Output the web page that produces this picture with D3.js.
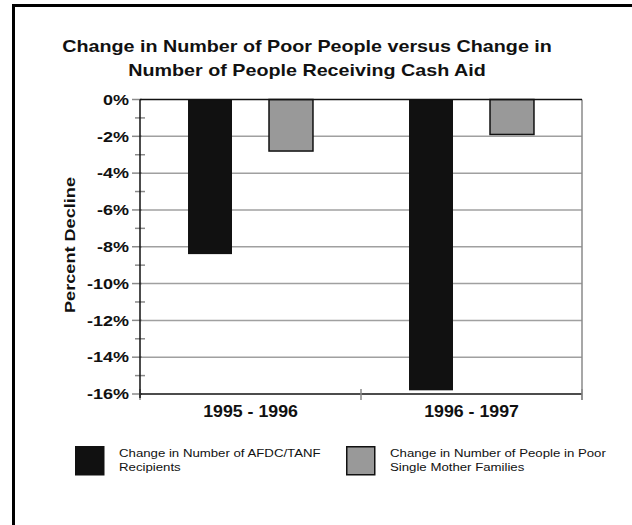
<!DOCTYPE html>
<html>
<head>
<meta charset="utf-8">
<script src="https://d3js.org/d3.v7.min.js"></script>
<style>
  body { margin: 0; background: #fff; }
  svg text { font-family: Arial, "Liberation Sans", sans-serif; }
</style>
</head>
<body>
<svg id="chart" width="632" height="525"></svg>
<script>
  // data
  var categories = ["1995 - 1996", "1996 - 1997"];
  var seriesNames = ["Change in Number of AFDC/TANF Recipients",
                     "Change in Number of People in Poor Single Mother Families"];
  var afdcValues = [-8.4, -15.8];
  var poorValues = [-2.8, -1.9];
  var yTicks = [0, -2, -4, -6, -8, -10, -12, -14, -16];
  var colors = ["#111111", "#999999"];

  var svg = d3.select("#chart");

  // text helper: the original font is set wider than Arial, so stretch it a bit
  function label(parent, x, y, str, size, bold, anchor, sx, rot) {
    var g = parent.append("g")
      .attr("transform", "translate(" + x + "," + y + ")" + (rot ? " rotate(" + rot + ")" : "") + " scale(" + sx + ",1)");
    return g.append("text")
      .attr("text-anchor", anchor)
      .attr("font-size", size)
      .attr("font-weight", bold ? "bold" : "normal")
      .attr("fill", "#111")
      .text(str);
  }

  // outer frame (only top & left visible)
  svg.append("rect")
    .attr("x", 13.5).attr("y", 5.5)
    .attr("width", 640).attr("height", 540)
    .attr("fill", "none").attr("stroke", "#000").attr("stroke-width", 3);

  var pLeft = 140, pRight = 582, pTop = 99.5, pBottom = 394;

  var y = d3.scaleLinear().domain([-16, 0]).range([pBottom, pTop]);
  var x0 = d3.scaleBand().domain(categories).range([pLeft, pRight]);
  var x1 = d3.scaleBand().domain([0, 1]).range([0, x0.bandwidth()])
    .paddingInner(0.457).paddingOuter(0.593);

  // gridlines
  svg.append("g").selectAll("line")
    .data(yTicks.filter(function(d){ return d < 0 && d > -16; }))
    .enter().append("line")
    .attr("x1", pLeft).attr("x2", pRight)
    .attr("y1", function(d){ return y(d); }).attr("y2", function(d){ return y(d); })
    .attr("stroke", "#a0a0a0").attr("stroke-width", 1.5);

  // right border of plot
  svg.append("line")
    .attr("x1", pRight).attr("x2", pRight).attr("y1", pTop).attr("y2", pBottom + 6)
    .attr("stroke", "#8a8a8a").attr("stroke-width", 1.5);

  // bars
  var rows = categories.map(function(c, i){ return [afdcValues[i], poorValues[i]]; });
  var groups = svg.append("g").selectAll("g")
    .data(rows).enter().append("g")
    .attr("transform", function(d, i){ return "translate(" + x0(categories[i]) + ",0)"; });
  groups.selectAll("rect")
    .data(function(d){ return d; })
    .enter().append("rect")
    .attr("x", function(d, j){ return x1(j); })
    .attr("y", y(0))
    .attr("width", x1.bandwidth())
    .attr("height", function(d){ return y(d) - y(0); })
    .attr("fill", function(d, j){ return colors[j]; })
    .attr("stroke", "#111")
    .attr("stroke-width", function(d, j){ return j == 1 ? 1.5 : 0; });

  // y axis ticks (major & minor)
  var minor = d3.range(-15, 0, 2);
  svg.append("g").selectAll("line")
    .data(minor).enter().append("line")
    .attr("x1", pLeft - 5).attr("x2", pLeft + 5)
    .attr("y1", function(d){ return y(d); }).attr("y2", function(d){ return y(d); })
    .attr("stroke", "#8a8a8a").attr("stroke-width", 1.5);
  svg.append("g").selectAll("line")
    .data(yTicks).enter().append("line")
    .attr("x1", pLeft - 8).attr("x2", pLeft + 2)
    .attr("y1", function(d){ return y(d); }).attr("y2", function(d){ return y(d); })
    .attr("stroke", "#8a8a8a").attr("stroke-width", 1.5);

  // zero line
  svg.append("line")
    .attr("x1", pLeft).attr("x2", pRight).attr("y1", y(0)).attr("y2", y(0))
    .attr("stroke", "#111").attr("stroke-width", 1.5);

  // x axis
  svg.append("line")
    .attr("x1", pLeft).attr("x2", pRight).attr("y1", pBottom).attr("y2", pBottom)
    .attr("stroke", "#111").attr("stroke-width", 1.5);
  svg.append("g").selectAll("line")
    .data([pLeft, x0(categories[1]), pRight]).enter().append("line")
    .attr("x1", function(d){ return d; }).attr("x2", function(d){ return d; })
    .attr("y1", pBottom - 5).attr("y2", pBottom + 6)
    .attr("stroke", "#8a8a8a").attr("stroke-width", 1.5);

  // y axis line
  svg.append("line")
    .attr("x1", pLeft).attr("x2", pLeft).attr("y1", pTop).attr("y2", pBottom + 4)
    .attr("stroke", "#111").attr("stroke-width", 1.5);

  // y tick labels
  var tickG = svg.append("g");
  yTicks.forEach(function(d){
    label(tickG, 129, y(d) + 5.3, d + "%", 15, true, "end", 1.2);
  });

  // x labels
  var xlabG = svg.append("g");
  categories.forEach(function(d){
    label(xlabG, x0(d) + x0.bandwidth() / 2, 416.5, d, 16, true, "middle", 1.11);
  });

  // y title
  label(svg, 75, 245, "Percent Decline", 15, true, "middle", 1.21, -90);

  // chart title
  label(svg, 307, 52, "Change in Number of Poor People versus Change in", 17, true, "middle", 1.16);
  label(svg, 307, 76, "Number of People Receiving Cash Aid", 17, true, "middle", 1.16);

  // legend
  var legendX = [75, 346];
  var legendLines = [["Change in Number of AFDC/TANF", "Recipients"],
                     ["Change in Number of People in Poor", "Single Mother Families"]];
  seriesNames.forEach(function(name, i){
    var g = svg.append("g").attr("transform", "translate(" + legendX[i] + ",446)");
    g.append("rect")
      .attr("x", 0.75).attr("y", 0.75).attr("width", 28).attr("height", 28)
      .attr("fill", colors[i])
      .attr("stroke", "#111").attr("stroke-width", 1.5);
    legendLines[i].forEach(function(line, k){
      label(g, 44, 11 + k * 13.5, line, 11.5, false, "start", 1.15);
    });
  });
</script>
</body>
</html>
